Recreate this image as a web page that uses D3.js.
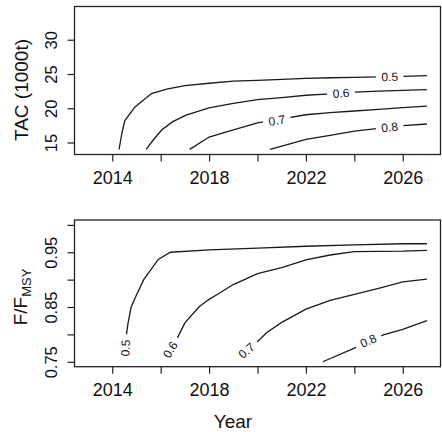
<!DOCTYPE html>
<html>
<head>
<meta charset="utf-8">
<script src="https://cdn.jsdelivr.net/npm/d3@7"></script>
<style>
  body { margin: 0; background: #fff; }
  text { font-family: "Liberation Sans", Arial, Helvetica, sans-serif; fill: #111; }
</style>
</head>
<body>
<svg id="chart"></svg>
<script>
// contour levels, same for both panels
const levels = ["0.5", "0.6", "0.7", "0.8"];

// x axis (years)
const yearTicks = [2014, 2016, 2018, 2020, 2022, 2024, 2026];
const yearLabels = [2014, 2018, 2022, 2026];

// top panel: TAC (1000t), one [year, tac] array per contour
const tacTicks = [15, 20, 25, 30];
const tac05 = [[2014.28, 14.0], [2014.4, 16.4], [2014.52, 18.2], [2014.94, 20.2], [2015.62, 22.15],
  [2016.25, 22.8], [2017, 23.3], [2018, 23.65], [2019, 23.95], [2020, 24.08], [2021, 24.22],
  [2022, 24.35], [2023, 24.45], [2024, 24.52], [2025, 24.58], [2026, 24.65], [2027, 24.75]];
const tac06 = [[2015.4, 14.0], [2015.7, 15.4], [2016.05, 16.85], [2016.5, 18.05], [2017.05, 19.0],
  [2018, 20.05], [2019, 20.7], [2020, 21.25], [2021, 21.55], [2022, 21.9], [2023, 22.1],
  [2024, 22.35], [2025, 22.5], [2026, 22.62], [2027, 22.72]];
const tac07 = [[2017.2, 14.0], [2018, 15.8], [2019, 16.85], [2020, 17.85], [2021, 18.45],
  [2022, 19.05], [2023, 19.35], [2024, 19.6], [2025, 19.85], [2026, 20.1], [2027, 20.3]];
const tac08 = [[2020.52, 14.0], [2022, 15.45], [2023, 16.05], [2024, 16.65], [2025, 17.05],
  [2026, 17.45], [2027, 17.7]];
// where the contour labels sit [year, tac]
const tacLabelAt = [[2025.46, 24.56], [2023.45, 22.17], [2020.8, 18.2], [2025.46, 17.2]];

// bottom panel: F/Fmsy
const fTicks = [0.75, 0.8, 0.85, 0.9, 0.95, 1.0];
const fTickLabels = [0.75, 0.85, 0.95];
const f05 = [[2014.55, 0.775], [2014.57, 0.795], [2014.65, 0.82], [2014.78, 0.85], [2015.0, 0.872],
  [2015.3, 0.90], [2015.9, 0.937], [2016.4, 0.95], [2018, 0.9545], [2020, 0.9575], [2022, 0.961],
  [2024, 0.9635], [2026, 0.9655], [2027, 0.9655]];
const f06 = [[2016.4, 0.772], [2016.65, 0.79], [2017.0, 0.821], [2017.6, 0.851], [2018, 0.864],
  [2018.3, 0.872], [2019, 0.891], [2020, 0.911], [2021, 0.922], [2022, 0.936], [2023, 0.945],
  [2024, 0.951], [2026, 0.952], [2027, 0.9535]];
const f07 = [[2019.55, 0.77], [2019.9, 0.783], [2020.4, 0.804], [2021, 0.822], [2022, 0.846],
  [2023, 0.862], [2024, 0.873], [2025, 0.884], [2026, 0.896], [2027, 0.901]];
const f08 = [[2022.7, 0.75], [2024, 0.775], [2025.2, 0.799], [2026, 0.809], [2027, 0.825]];
const fLabelAt = [[2014.55, 0.775], [2016.4, 0.772], [2019.55, 0.77], [2024.58, 0.788]];

const width = 442;
const height = 432;
const left = 74.5;
const right = 440.5;

const svg = d3.select("#chart")
    .attr("width", width)
    .attr("height", height);

// same year scale for both panels
const xScale = d3.scaleLinear()
    .domain([2012.44, 2027.56])
    .range([left, right]);

function drawPanel(top, bottom, yDomain, yTicks, yShown, curves, labelAt) {
    const yScale = d3.scaleLinear()
        .domain(yDomain)
        .range([bottom, top]);

    const xAxis = d3.axisBottom(xScale)
        .tickValues(yearTicks)
        .tickSize(7)
        .tickSizeOuter(0)
        .tickPadding(10)
        .tickFormat(d => yearLabels.includes(d) ? d : "");

    const gx = svg.append("g")
        .attr("transform", `translate(0, ${bottom})`)
        .call(xAxis);
    gx.select(".domain").remove();
    gx.selectAll("line").attr("stroke", "#222").attr("stroke-width", 1.2);
    gx.selectAll("text").style("font-size", "18px");

    const yAxis = d3.axisLeft(yScale)
        .tickValues(yTicks)
        .tickSize(7)
        .tickSizeOuter(0)
        .tickFormat(d => yShown.some(v => Math.abs(v - d) < 1e-9) ? String(d) : "");

    const gy = svg.append("g")
        .attr("transform", `translate(${left}, 0)`)
        .call(yAxis);
    gy.select(".domain").remove();
    gy.selectAll("line").attr("stroke", "#222").attr("stroke-width", 1.2);
    // R style: labels parallel to the axis
    gy.selectAll("text")
        .attr("x", 0)
        .attr("y", -17.5)
        .attr("dy", null)
        .attr("transform", "rotate(-90)")
        .attr("text-anchor", "middle")
        .style("font-size", "16.5px");

    const line = d3.line()
        .x(d => xScale(d[0]))
        .y(d => yScale(d[1]));

    svg.append("g")
        .selectAll("path")
        .data(curves)
        .enter()
        .append("path")
            .attr("d", line)
            .attr("fill", "none")
            .attr("stroke", "#1a1a1a")
            .attr("stroke-width", 1.3);

    // contour labels, rotated along the line, with a white gap behind
    labelAt.forEach((p, i) => {
        const c = curves[i];
        let j = c.findIndex((d, k) => k < c.length - 1 && c[k + 1][0] >= p[0] && d[0] <= p[0]);
        if (j < 0) j = 0;
        const a = Math.atan2(yScale(c[j + 1][1]) - yScale(c[j][1]),
                             xScale(c[j + 1][0]) - xScale(c[j][0])) * 180 / Math.PI;
        const g = svg.append("g")
            .attr("transform", `translate(${xScale(p[0])}, ${yScale(p[1])}) rotate(${a})`);
        const bg = g.append("rect").attr("fill", "#fff");
        const t = g.append("text")
            .attr("text-anchor", "middle")
            .attr("dominant-baseline", "central")
            .style("font-size", "12px")
            .text(levels[i]);
        const w = t.node().getComputedTextLength() + 11;
        bg.attr("x", -w / 2).attr("y", -5).attr("width", w).attr("height", 10);
    });

    // box round the plot region
    svg.append("rect")
        .attr("x", left)
        .attr("y", top)
        .attr("width", right - left)
        .attr("height", bottom - top)
        .attr("fill", "none")
        .attr("stroke", "#222")
        .attr("stroke-width", 1.3);
}

drawPanel(6.5, 154.5, [13.25, 34.85], tacTicks, tacTicks, [tac05, tac06, tac07, tac08], tacLabelAt);
drawPanel(220, 366.7, [0.741, 1.0089], fTicks, fTickLabels, [f05, f06, f07, f08], fLabelAt);

// axis titles
svg.append("text")
    .attr("transform", "translate(27.5, 90) rotate(-90)")
    .attr("text-anchor", "middle")
    .style("font-size", "19px")
    .text("TAC (1000t)");

const fTitle = svg.append("text")
    .attr("transform", "translate(26.5, 297) rotate(-90)")
    .attr("text-anchor", "middle")
    .style("font-size", "19px");
fTitle.append("tspan").text("F/F");
fTitle.append("tspan")
    .attr("dy", 4)
    .style("font-size", "13px")
    .text("MSY");

svg.append("text")
    .attr("x", 233)
    .attr("y", 428)
    .attr("text-anchor", "middle")
    .style("font-size", "19px")
    .text("Year");
</script>
</body>
</html>
